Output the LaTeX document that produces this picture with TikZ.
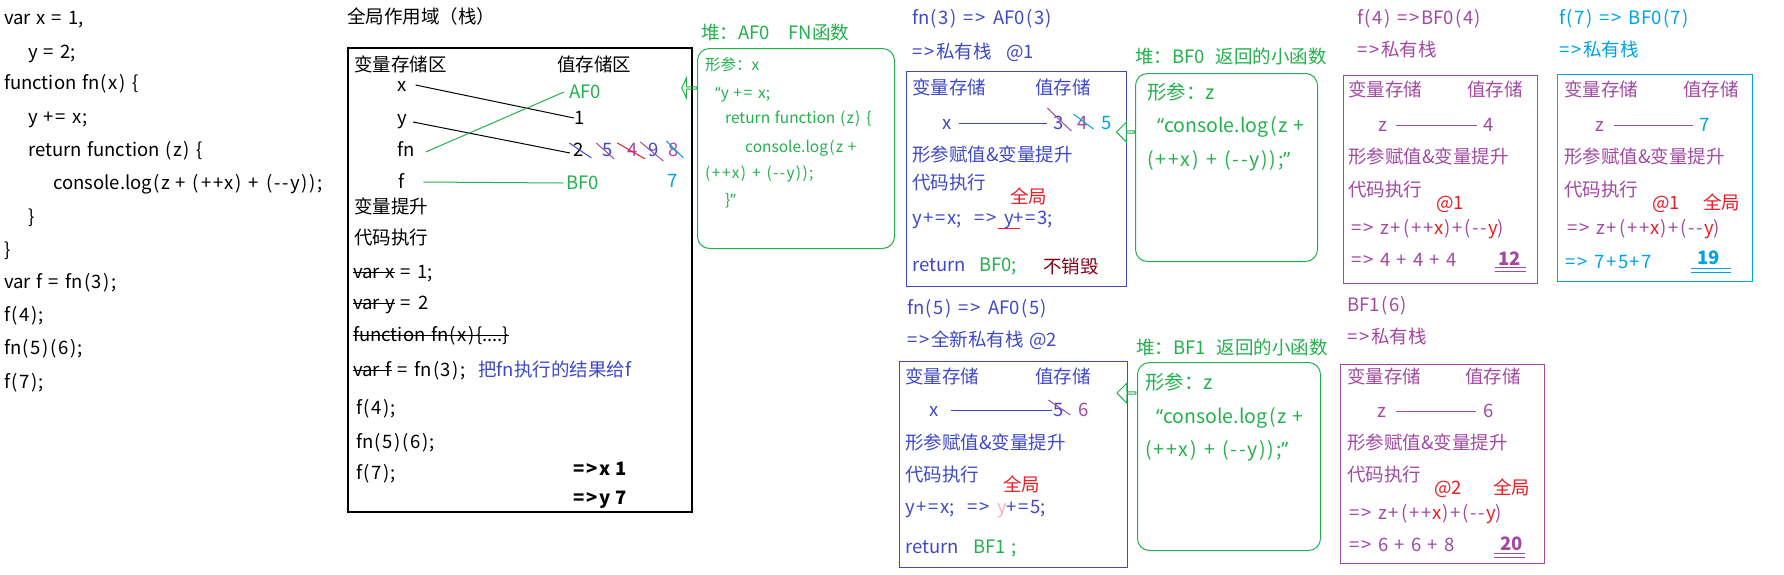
\documentclass[tikz,border=0pt]{standalone}
\usepackage{fontspec}
\setmainfont{Noto Sans CJK SC}
\newfontfamily\qf{Noto Sans}
\usetikzlibrary{shapes.arrows}
\definecolor{cblue}{HTML}{3F48CC}
\definecolor{cgreen}{HTML}{22B14C}
\definecolor{cpurple}{HTML}{A349A4}
\definecolor{ccyan}{HTML}{00A2E8}
\definecolor{cred}{HTML}{ED1C24}
\definecolor{cdred}{HTML}{880015}
\definecolor{cpink}{HTML}{FFAEC9}
% wider symbols, like the reference font
\XeTeXinterchartokenstate=1
\XeTeXcharclass`\+=7 \XeTeXcharclass`\==7 \XeTeXcharclass`\>=7
\XeTeXcharclass`\(=7 \XeTeXcharclass`\)=7 \XeTeXcharclass`\-=7
\XeTeXinterchartoks 0 7={\kern.08em\relax}
\XeTeXinterchartoks 7 0={\kern.08em\relax}
\XeTeXinterchartoks 7 7={\kern.1em\relax}
\XeTeXinterchartoks 7 4095={\kern.08em\relax}
\newcommand\szA{\fontsize{18.5}{22}\selectfont\spaceskip=0.3em\relax}
\newcommand\szB{\fontsize{15.5}{19}\selectfont\spaceskip=0.3em\relax}
\newcommand\szC{\fontsize{19.5}{24}\selectfont\spaceskip=0.3em\relax}
\newcommand\qL{{\qf “}}
\newcommand\qR{{\qf ”}}
\newcommand\stk[1]{\setbox0=\hbox{#1}\rlap{\rule[0.28em]{\wd0}{1.2pt}}\box0\relax}
\newcommand\ulred[1]{\setbox0=\hbox{#1}\rlap{\hspace{-6pt}\textcolor{cred}{\rule[-0.26em]{\dimexpr\wd0+12pt\relax}{1pt}}}\box0\relax}
\begin{document}
\begin{tikzpicture}[x=1pt,y=-1pt,
 tA/.style={anchor=west,inner sep=0pt,font=\szA,text height=14.8pt,text depth=1.85pt},
 tB/.style={anchor=west,inner sep=0pt,font=\szB,text height=12.4pt,text depth=1.55pt},
 tC/.style={anchor=west,inner sep=0pt,font=\szC,text height=15.6pt,text depth=2pt},
 ln/.style={line width=1pt},
 boxf/.style={draw,line width=1pt,anchor=north west,inner sep=0pt},
 heap/.style={draw=cgreen,line width=1pt,rounded corners=12pt,anchor=north west,inner sep=0pt},
 harrow/.style={single arrow,draw=cgreen,line width=1pt,shape border rotate=180,minimum width=20pt,single arrow head extend=4pt,inner sep=0pt},
 dbl/.style={line width=1pt}]
\useasboundingbox (0,0) rectangle (1784,574);
\fill[white] (0,0) rectangle (1784,574);

% ---------- source code ----------
\node[tA] (c1) at (4,18) {var x = 1,};
\node[tA] (c2) at (28,52) {y = 2;};
\node[tA] (c3) at (4,83) {function fn(x) \{};
\node[tA] (c4) at (28,117) {y += x;};
\node[tA] (c5) at (28,150) {return function (z) \{};
\node[tA] (c6) at (53,183) {console.log(z + (++x) + (-{}-y));};
\node[tA] (c7) at (28,217) {\}};
\node[tA] (c8) at (4,250) {\}};
\node[tA] (c9) at (4,282) {var f = fn(3);};
\node[tA] (c10) at (4,315) {f(4);};
\node[tA] (c11) at (4,348) {fn(5)(6);};
\node[tA] (c12) at (4,382) {f(7);};

% ---------- global scope ----------
\node[tA] (gtitle) at (347,17) {全局作用域（栈）};
\node[boxf,line width=1.6pt,minimum width=344pt,minimum height=464pt] (gbox) at (347,47) {};
\node[tA] (g1) at (354,65) {变量存储区};
\node[tA] (g2) at (557,65) {值存储区};
\node[tA] (gx) at (397,85) {x};
\node[tA] (gy) at (397,118) {y};
\node[tA] (gfn) at (397,150) {fn};
\node[tA] (gf) at (398,182) {f};
\node[tA,text=cgreen] (vAF) at (569,92) {AF0};
\node[tA] (v1) at (574,118) {1};
\node[tA] (v2) at (573,150) {2};
\node[tA,text=cblue] (v5) at (602,150) {5};
\node[tA,text=cpurple] (v4) at (627,150) {4};
\node[tA,text=cblue] (v9) at (648,150) {9};
\node[tA,text=cpurple] (v8) at (668,150) {8};
\node[tA,text=cgreen] (vBF) at (566,183) {BF0};
\node[tA,text=ccyan] (v7) at (667,181) {7};
\draw[ln] ([xshift=9pt]gx.east) -- (v1.west);
\draw[ln] ([shift={(6,4)}]gy.east) -- ([shift={(-3,3)}]v2.west);
\draw[ln,cgreen] ([shift={(11,2)}]gfn.east) -- ([xshift=-5pt]vAF.west);
\draw[ln,cgreen] ([xshift=19pt]gf.east) -- ([xshift=-3pt]vBF.west);
\draw[ln,cblue] ([shift={(-9,-7)}]v2.center) -- ([shift={(13,8)}]v2.center);
\draw[ln,cpurple] ([shift={(-11,-7)}]v5.center) -- ([shift={(7,9)}]v5.center);
\draw[ln,cred] ([shift={(-15,-7)}]v4.center) -- ([shift={(13,9)}]v4.center);
\draw[ln,cpurple] ([shift={(-13,-8)}]v9.center) -- ([shift={(10,11)}]v9.center);
\draw[ln,ccyan] ([shift={(-7,-9)}]v8.center) -- ([shift={(10,8)}]v8.center);
\node[tA] (g3) at (354,207) {变量提升};
\node[tA] (g4) at (354,238) {代码执行};
\node[tA] (g5) at (353,272) {\stk{var x} = 1;};
\node[tA] (g6) at (353,303) {\stk{var y} = 2};
\node[tA] (g7) at (353,335) {\stk{function fn(x)\{....\}}};
\node[tA] (g8) at (353,370) {\stk{var f} = fn(3);};
\node[tA,text=cblue] (g8n) at (478,370) {把fn执行的结果给f};
\node[tA] (g9) at (356,408) {f(4);};
\node[tA] (g10) at (356,442) {fn(5)(6);};
\node[tA] (g11) at (356,473) {f(7);};
\node[tA,font=\szA\bfseries] (g12) at (573,469) {=>x 1};
\node[tA,font=\szA\bfseries] (g13) at (573,498) {=>y 7};

% ---------- heap AF0 ----------
\node[tA,text=cgreen] (hAt) at (701,33) {堆：AF0\hspace{1em}FN函数};
\node[heap,minimum width=197pt,minimum height=200pt] (hA) at (697,48) {};
\node[tB,text=cgreen] (a1) at (705,65) {形参：x};
\node[tB,text=cgreen] (a2) at (715,93) {\qL y += x;};
\node[tB,text=cgreen] (a3) at (725,118) {return function (z) \{};
\node[tB,text=cgreen] (a4) at (745,147) {console.log(z +};
\node[tB,text=cgreen] (a5) at (705,173) {(++x) + (-{}-y));};
\node[tB,text=cgreen] (a6) at (725,200) {\}\qR};
\node[harrow,minimum height=15pt,single arrow tip angle=130] (arA) at (689.5,88) {};

% ---------- fn(3) private stack ----------
\node[tA,text=cblue] (b1) at (912,18) {fn(3) => AF0(3)};
\node[tA,text=cblue] (b2) at (912,52) {=>私有栈\hspace{0.8em}@1};
\node[boxf,draw=cblue,minimum width=220pt,minimum height=215pt] (bbox) at (906,71) {};
\node[tA,text=cblue] (b3) at (912,88) {变量存储};
\node[tA,text=cblue] (b4) at (1035,88) {值存储};
\node[tA,text=cblue] (bx) at (942,123) {x};
\node[tA,text=cblue] (bv3) at (1053,123) {3};
\node[tA,text=cpurple] (bv4) at (1077,123) {4};
\node[tA,text=ccyan] (bv5) at (1101,123) {5};
\draw[ln,cblue] ([xshift=7pt]bx.east) -- ([xshift=-6pt]bv3.west);
\draw[ln,cpurple] ([shift={(-11,-15)}]bv3.center) -- ([shift={(13,8)}]bv3.center);
\draw[ln,ccyan] ([shift={(-9,-9)}]bv4.center) -- ([shift={(11,6)}]bv4.center);
\node[tA,text=cblue] (b5) at (912,155) {形参赋值\&变量提升};
\node[tA,text=cblue] (b6) at (912,183) {代码执行};
\node[tA,text=cred] (b7) at (1010,197) {全局};
\node[tA,text=cblue] (b8) at (912,218) {y+=x;\hspace{0.7em}=> \ulred{y}+=3;};
\node[tA,text=cblue] (b9) at (912,265) {return};
\node[tA,text=cgreen] (b10) at (979,265) {BF0;};
\node[tA,text=cdred] (b11) at (1043,267) {不销毁};

% ---------- heap BF0 ----------
\node[tA,text=cgreen] (hBt) at (1135,57) {堆：BF0\hspace{0.6em}返回的小函数};
\node[heap,minimum width=182pt,minimum height=188pt] (hB) at (1135,73) {};
\node[tC,text=cgreen] (d1) at (1147,93) {形参：z};
\node[tC,text=cgreen] (d2) at (1157,126) {\qL console.log(z +};
\node[tC,text=cgreen] (d3) at (1147,160) {(++x) + (-{}-y));\qR};
\node[harrow,minimum height=18pt] (arB) at (1126,132) {};

% ---------- fn(5) private stack ----------
\node[tA,text=cblue] (e1) at (907,308) {fn(5) => AF0(5)};
\node[tA,text=cblue] (e2) at (907,340) {=>全新私有栈 @2};
\node[boxf,draw=cblue,minimum width=228pt,minimum height=206pt] (ebox) at (899,361) {};
\node[tA,text=cblue] (e3) at (905,377) {变量存储};
\node[tA,text=cblue] (e4) at (1035,377) {值存储};
\node[tA,text=cblue] (ex) at (929,410) {x};
\node[tA,text=cblue] (ev5) at (1053,410) {5};
\node[tA,text=cpurple] (ev6) at (1078,410) {6};
\draw[ln,cblue] ([xshift=12pt]ex.east) -- ([xshift=-1pt]ev5.west);
\draw[ln,cpurple] ([shift={(-10,-10)}]ev5.center) -- ([shift={(12,5)}]ev5.center);
\node[tA,text=cblue] (e5) at (905,443) {形参赋值\&变量提升};
\node[tA,text=cblue] (e6) at (905,475) {代码执行};
\node[tA,text=cred] (e7) at (1003,485) {全局};
\node[tA,text=cblue] (e8) at (905,507) {y+=x;\hspace{0.7em}=> \textcolor{cpink}{y}+=5;};
\node[tA,text=cblue] (e9) at (905,547) {return};
\node[tA,text=cgreen] (e10) at (973,547) {BF1 ;};

% ---------- heap BF1 ----------
\node[tA,text=cgreen] (hCt) at (1136,348) {堆：BF1\hspace{0.6em}返回的小函数};
\node[heap,minimum width=183pt,minimum height=188pt] (hC) at (1137,362) {};
\node[tC,text=cgreen] (k1) at (1145,383) {形参：z};
\node[tC,text=cgreen] (k2) at (1156,417) {\qL console.log(z +};
\node[tC,text=cgreen] (k3) at (1145,450) {(++x) + (-{}-y));\qR};
\node[harrow,minimum height=19pt] (arC) at (1127,393) {};

% ---------- f(4) ----------
\node[tA,text=cpurple] (p1) at (1357,18) {f(4) =>BF0(4)};
\node[tA,text=cpurple] (p2) at (1357,50) {=>私有栈};
\node[boxf,draw=cpurple,minimum width=194pt,minimum height=208pt] (pbox) at (1343,75) {};
\node[tA,text=cpurple] (p3) at (1348,90) {变量存储};
\node[tA,text=cpurple] (p4) at (1467,90) {值存储};
\node[tA,text=cpurple] (pz) at (1378,125) {z};
\node[tA,text=cpurple] (pv) at (1483,125) {4};
\draw[ln,cpurple] ([xshift=9pt]pz.east) -- ([xshift=-6pt]pv.west);
\node[tA,text=cpurple] (p5) at (1348,157) {形参赋值\&变量提升};
\node[tA,text=cpurple] (p6) at (1348,190) {代码执行};
\node[tA,text=cred] (p7) at (1436,203) {@1};
\node[tA,text=cpurple] (p8) at (1351,228) {=> z+(++\textcolor{cred}{x})+(-{}-\textcolor{cred}{y})};
\node[tA,text=cpurple] (p9) at (1351,260) {=> 4 + 4 + 4};
\node[tA,text=cpurple,font=\szA\bfseries] (p10) at (1498,259) {12};
\draw[dbl,cpurple] ([shift={(-3,8)}]p10.west) -- ([shift={(5,8)}]p10.east);
\draw[dbl,cpurple] ([shift={(-3,12)}]p10.west) -- ([shift={(5,12)}]p10.east);

% ---------- f(7) ----------
\node[tA,text=ccyan] (q1) at (1559,18) {f(7) => BF0(7)};
\node[tA,text=ccyan] (q2) at (1559,50) {=>私有栈};
\node[boxf,draw=ccyan,minimum width=195pt,minimum height=207pt] (qbox) at (1557,74) {};
\node[tA,text=cpurple] (q3) at (1564,90) {变量存储};
\node[tA,text=cpurple] (q4) at (1683,90) {值存储};
\node[tA,text=cpurple] (qz) at (1595,125) {z};
\node[tA,text=ccyan] (qv) at (1699,125) {7};
\draw[ln,cpurple] ([xshift=10pt]qz.east) -- ([xshift=-6pt]qv.west);
\node[tA,text=cpurple] (q5) at (1564,157) {形参赋值\&变量提升};
\node[tA,text=cpurple] (q6) at (1564,190) {代码执行};
\node[tA,text=cred] (q7) at (1652,203) {@1};
\node[tA,text=cred] (q7b) at (1703,203) {全局};
\node[tA,text=cpurple] (q8) at (1567,228) {=> z+(++\textcolor{cred}{x})+(-{}-\textcolor{cred}{y})};
\node[tA,text=ccyan] (q9) at (1565,262) {=> 7+5+7};
\node[tA,text=ccyan,font=\szA\bfseries] (q10) at (1697,258) {19};
\draw[dbl,ccyan] ([shift={(-6,10)}]q10.west) -- ([shift={(11,10)}]q10.east);
\draw[dbl,ccyan] ([shift={(-6,14)}]q10.west) -- ([shift={(11,14)}]q10.east);

% ---------- BF1(6) ----------
\node[tA,text=cpurple] (r1) at (1347,305) {BF1(6)};
\node[tA,text=cpurple] (r2) at (1347,337) {=>私有栈};
\node[boxf,draw=cpurple,minimum width=204pt,minimum height=199pt] (rbox) at (1340,364) {};
\node[tA,text=cpurple] (r3) at (1347,377) {变量存储};
\node[tA,text=cpurple] (r4) at (1465,377) {值存储};
\node[tA,text=cpurple] (rz) at (1377,411) {z};
\node[tA,text=cpurple] (rv) at (1483,411) {6};
\draw[ln,cpurple] ([xshift=10pt]rz.east) -- ([xshift=-7pt]rv.west);
\node[tA,text=cpurple] (r5) at (1347,443) {形参赋值\&变量提升};
\node[tA,text=cpurple] (r6) at (1347,475) {代码执行};
\node[tA,text=cred] (r7) at (1434,488) {@2};
\node[tA,text=cred] (r7b) at (1493,488) {全局};
\node[tA,text=cpurple] (r8) at (1349,513) {=> z+(++\textcolor{cred}{x})+(-{}-\textcolor{cred}{y})};
\node[tA,text=cpurple] (r9) at (1349,545) {=> 6 + 6 + 8};
\node[tA,text=cpurple,font=\szA\bfseries] (r10) at (1500,544) {20};
\draw[dbl,cpurple] ([shift={(-6,9)}]r10.west) -- ([shift={(2,9)}]r10.east);
\draw[dbl,cpurple] ([shift={(-6,13)}]r10.west) -- ([shift={(2,13)}]r10.east);
\end{tikzpicture}
\end{document}
